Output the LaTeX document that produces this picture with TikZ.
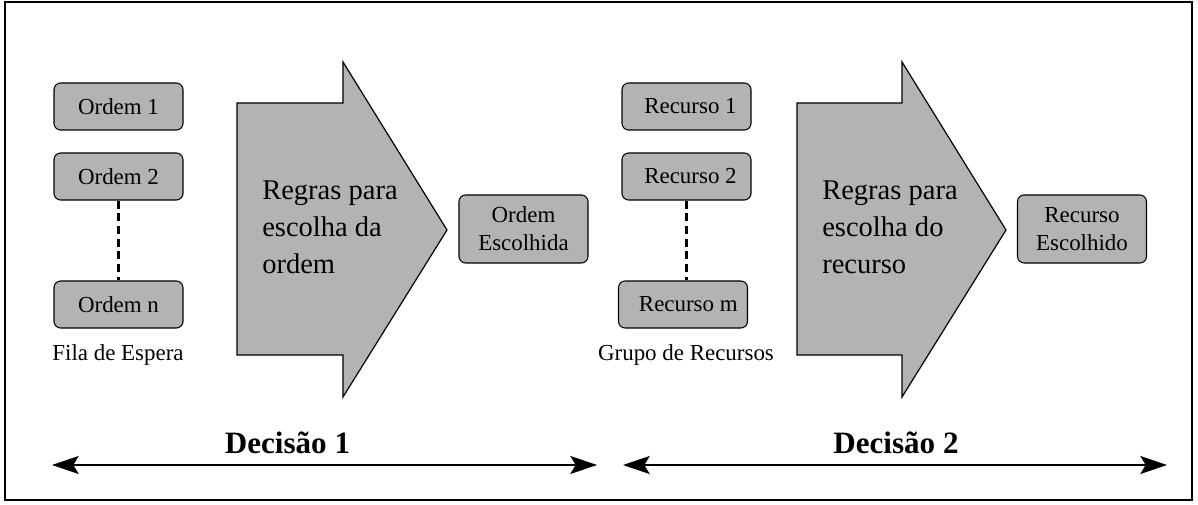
\documentclass[tikz,border=0pt]{standalone}
\usepackage{fontspec}
\setmainfont{Liberation Serif}
\usepackage{tikz}
\usetikzlibrary{arrows.meta}
\definecolor{boxgray}{RGB}{179,179,179}
\tikzstyle{item}=[draw, rounded corners=5pt, fill=boxgray, inner sep=0pt, minimum width=96.75pt, minimum height=35.25pt, font=\fontsize{17.2}{20.5}\selectfont, line width=0.8pt]
\tikzstyle{chosen}=[item, minimum height=51pt, align=center, font=\fontsize{17.2}{21}\selectfont]
\tikzstyle{rule}=[draw, fill=boxgray, line width=0.9pt]
\tikzstyle{gap}=[line width=1.8pt, dash pattern=on 6pt off 3.5pt]
\tikzstyle{span}=[{Stealth[length=20pt,width=13.5pt,inset=4pt]}-{Stealth[length=20pt,width=13.5pt,inset=4pt]}, line width=1.3pt]

\begin{document}
\begin{tikzpicture}[x=0.75pt, y=-0.75pt]
        \useasboundingbox (0,0) rectangle (1198,505);
        \draw[line width=1pt] (5,2) rectangle (1192,500);

        % Decision 1: queue of orders
        \node (o1) at (118.5,106.5) [item] {Ordem 1};
        \node (o2) at (118.5,176.5) [item] {Ordem 2};
        \node (on) at (118.5,304.5) [item] {Ordem n};
        \node (fila) at (118,355) [font=\fontsize{17.2}{20.5}\selectfont] {Fila de Espera};
        \draw[gap] (o2) -- (on);

        % big arrow with the rules
        \draw[rule] (237,103) -- (343,103) -- (343,62) -- (447,230) -- (343,397) -- (343,355) -- (237,355) -- cycle;
        \node (r1) at (262,227) [anchor=west, inner sep=0pt, align=left, font=\fontsize{21.4}{27.75}\selectfont] {Regras para\\escolha da\\ordem};
        \node (oe) at (523.5,229) [chosen] {Ordem\\Escolhida};

        % Decision 2: group of resources
        \node (c1) at (686.5,106.5) [item] {\hspace{6pt}Recurso 1};
        \node (c2) at (686.5,176.5) [item] {\hspace{6pt}Recurso 2};
        \node (cm) at (683,304.5) [item] {\hspace{8pt}Recurso m};
        \node (grupo) at (686,355) [font=\fontsize{17.2}{20.5}\selectfont] {Grupo de Recursos};
        \draw[gap] (c2.south) -- (c2.south |- cm.north);

        \draw[rule] (797,103) -- (902,103) -- (902,62) -- (1006,230) -- (902,397) -- (902,355) -- (797,355) -- cycle;
        \node (r2) at (822,227) [anchor=west, inner sep=0pt, align=left, font=\fontsize{21.4}{27.75}\selectfont] {Regras para\\escolha do\\recurso};
        \node (ce) at (1082,229) [chosen] {Recurso\\Escolhido};

        % decisions
        \node (d1) at (287.5,443) [font=\fontsize{23.3}{28}\selectfont\bfseries] {Decisão 1};
        \node (d2) at (896,443) [font=\fontsize{23.3}{28}\selectfont\bfseries] {Decisão 2};
        \coordinate (a1) at (52,465);
        \coordinate (b1) at (597,465);
        \coordinate (a2) at (623,465);
        \coordinate (b2) at (1167,465);
        \draw[span] (a1) -- (b1);
        \draw[span] (a2) -- (b2);
\end{tikzpicture}
\end{document}
